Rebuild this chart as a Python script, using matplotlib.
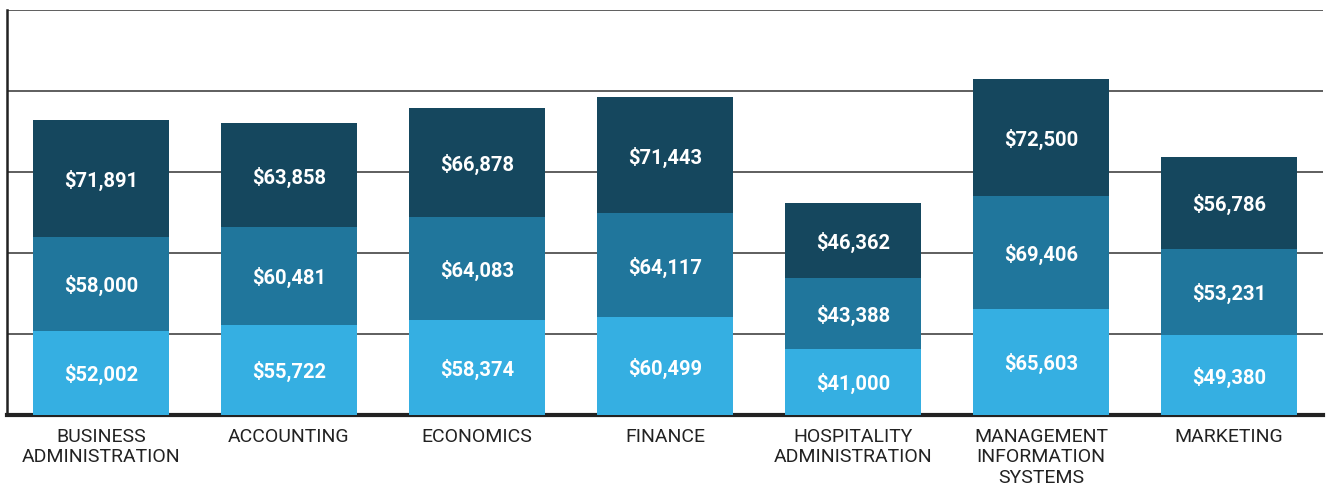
import matplotlib
matplotlib.use('Agg')
import matplotlib.pyplot as plt
import numpy as np

# majors, bottom to top segments
majors = ['BUSINESS\nADMINISTRATION', 'ACCOUNTING', 'ECONOMICS', 'FINANCE',
          'HOSPITALITY\nADMINISTRATION', 'MANAGEMENT\nINFORMATION\nSYSTEMS', 'MARKETING']
low = [52002, 55722, 58374, 60499, 41000, 65603, 49380]
mid = [58000, 60481, 64083, 64117, 43388, 69406, 53231]
high = [71891, 63858, 66878, 71443, 46362, 72500, 56786]

colors = ['#35afe2', '#20769c', '#15475e']

plt.rcParams['font.family'] = ['Roboto', 'DejaVu Sans']

fig = plt.figure(figsize=(13.31, 4.87), dpi=100)
ax = fig.add_axes([7/1331, 72/487, 1316/1331, 405/487])

x = np.arange(len(majors))
bottom = np.zeros(len(majors))
for vals, c in zip([low, mid, high], colors):
    vals = np.array(vals)
    ax.bar(x, vals, 0.723, bottom=bottom, color=c, zorder=3)
    for xi, b, v in zip(x, bottom, vals):
        ax.text(xi, b + v / 2, '${:,}'.format(v), ha='center', va='center_baseline',
                color='white', fontsize=14.5, fontweight='bold', zorder=4)
    bottom = bottom + vals

ax.set_xlim(-0.5, 6.5)
ax.set_ylim(0, 250000)
ax.set_yticks(np.arange(0, 250001, 50000))
ax.set_yticklabels([])
ax.tick_params(axis='y', length=0)
ax.tick_params(axis='x', length=0, pad=9)
ax.set_xticks(x)
ax.set_xticklabels(majors, fontsize=14, color='#222222', linespacing=1.18)
ax.grid(axis='y', color='#333333', linewidth=1.1, zorder=0)

for s in ['top', 'right']:
    ax.spines[s].set_visible(False)
ax.spines['left'].set_linewidth(1.8)
ax.spines['left'].set_color('#222222')
ax.spines['bottom'].set_linewidth(3)
ax.spines['bottom'].set_color('#222222')

fig.savefig('out.png', dpi=100)
